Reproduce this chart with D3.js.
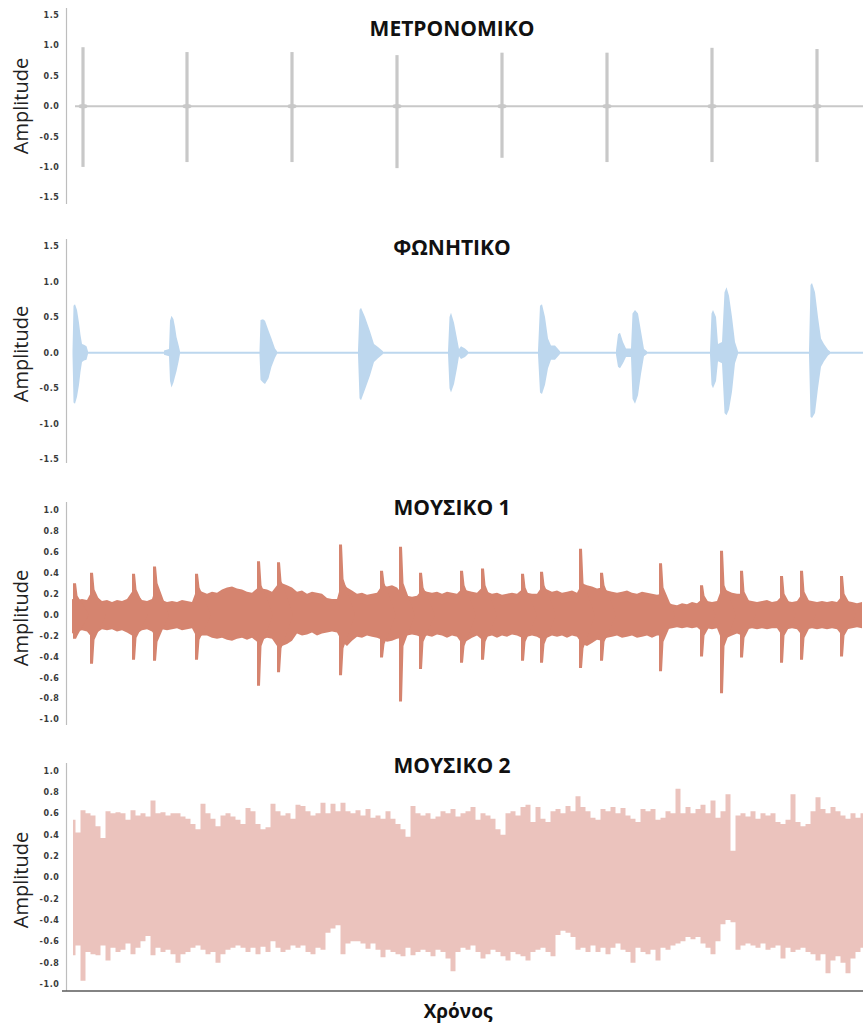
<!DOCTYPE html>
<html>
<head>
<meta charset="utf-8">
<script src="https://cdn.jsdelivr.net/npm/d3@7"></script>
<style>
  body { margin: 0; background: #fff; }
  svg { display: block; }
  .tick text { font-family: "DejaVu Sans", sans-serif; font-weight: bold; font-size: 8px; fill: #3a3a3a; letter-spacing: 0.6px; }
  .ylab { font-family: "Open Sans", sans-serif; font-size: 20px; fill: #222; }
  .ttl { font-family: "Open Sans", sans-serif; font-weight: bold; font-size: 21px; fill: #111; }
</style>
</head>
<body>
<svg id="chart" width="863" height="1030"></svg>
<script>
// ---- text ----
const panelTitles = ["ΜΕΤΡΟΝΟΜΙΚΟ", "ΦΩΝΗΤΙΚΟ", "ΜΟΥΣΙΚΟ 1", "ΜΟΥΣΙΚΟ 2"];
const yAxisLabel = "Amplitude";
const xAxisLabel = "Χρόνος";

// ---- tick values ----
const ticksWide = [1.5, 1.0, 0.5, 0.0, -0.5, -1.0, -1.5];
const ticksNarrow = [1.0, 0.8, 0.6, 0.4, 0.2, 0.0, -0.2, -0.4, -0.6, -0.8, -1.0];

// time span of the recordings (seconds)
const timeSpan = 15.92;

// ---- metronome: click time, positive peak, negative peak ----
const metronomeClicks = [
  [0.32, 0.97, -1.00],
  [2.40, 0.89, -0.92],
  [4.50, 0.89, -0.92],
  [6.60, 0.84, -1.02],
  [8.70, 0.88, -0.85],
  [10.80, 0.88, -0.92],
  [12.90, 0.96, -0.92],
  [15.00, 0.94, -0.92]
];

// ---- vocal: each syllable envelope as [time, upper, lower] ----
const vocalBursts = [
  [[0.11, 0.03, -0.03], [0.13, 0.66, -0.70], [0.16, 0.68, -0.72], [0.20, 0.60, -0.62], [0.24, 0.42, -0.45],
   [0.27, 0.25, -0.27], [0.30, 0.12, -0.13], [0.34, 0.11, -0.11], [0.39, 0.09, -0.10], [0.42, 0.02, -0.02]],
  [[1.94, 0.03, -0.03], [2.04, 0.05, -0.05], [2.06, 0.45, -0.40], [2.09, 0.52, -0.49], [2.13, 0.47, -0.42],
   [2.16, 0.36, -0.34], [2.19, 0.22, -0.26], [2.23, 0.11, -0.13], [2.26, 0.02, -0.02]],
  [[3.85, 0.03, -0.03], [3.87, 0.46, -0.38], [3.92, 0.47, -0.42], [3.96, 0.45, -0.44], [4.03, 0.31, -0.36],
   [4.09, 0.20, -0.20], [4.16, 0.06, -0.07], [4.20, 0.02, -0.02]],
  [[5.82, 0.03, -0.03], [5.85, 0.60, -0.64], [5.88, 0.63, -0.67], [5.96, 0.50, -0.52], [6.06, 0.30, -0.32],
   [6.14, 0.12, -0.13], [6.22, 0.08, -0.08], [6.32, 0.02, -0.02]],
  [[7.62, 0.02, -0.02], [7.65, 0.50, -0.50], [7.68, 0.56, -0.56], [7.74, 0.42, -0.44], [7.80, 0.20, -0.22],
   [7.84, 0.05, -0.05], [7.88, 0.09, -0.09], [7.96, 0.06, -0.06], [8.02, 0.02, -0.02]],
  [[9.42, 0.03, -0.03], [9.46, 0.66, -0.56], [9.50, 0.68, -0.58], [9.56, 0.50, -0.45], [9.62, 0.20, -0.22],
   [9.68, 0.10, -0.10], [9.76, 0.10, -0.10], [9.86, 0.02, -0.02]],
  [[10.98, 0.03, -0.03], [11.02, 0.26, -0.20], [11.06, 0.28, -0.22], [11.12, 0.15, -0.15], [11.18, 0.06, -0.06],
   [11.28, 0.06, -0.06], [11.31, 0.55, -0.65], [11.36, 0.60, -0.72], [11.42, 0.55, -0.60], [11.48, 0.30, -0.30],
   [11.54, 0.05, -0.05], [11.60, 0.02, -0.02]],
  [[12.86, 0.03, -0.03], [12.89, 0.55, -0.45], [12.92, 0.60, -0.50], [12.98, 0.50, -0.40], [13.02, 0.12, -0.12],
   [13.10, 0.15, -0.15], [13.15, 0.85, -0.85], [13.19, 0.92, -0.88], [13.24, 0.80, -0.80], [13.30, 0.50, -0.55],
   [13.36, 0.15, -0.15], [13.42, 0.02, -0.02]],
  [[14.84, 0.03, -0.03], [14.87, 0.95, -0.90], [14.90, 0.98, -0.92], [14.96, 0.85, -0.85], [15.02, 0.50, -0.50],
   [15.08, 0.20, -0.20], [15.14, 0.12, -0.12], [15.22, 0.04, -0.04], [15.26, 0.02, -0.02]]
];

// ---- music 1: background envelope every 0.1 s, starting at 0.10 s ----
const music1Start = 0.10;
const music1Step = 0.1;
const music1Upper = [
  0.15, 0.14, 0.15, 0.14, 0.23, 0.17, 0.13, 0.14, 0.12, 0.14,
  0.13, 0.15, 0.22, 0.20, 0.14, 0.13, 0.15, 0.30, 0.14, 0.12,
  0.13, 0.12, 0.14, 0.13, 0.12, 0.25, 0.22, 0.20, 0.22, 0.21,
  0.24, 0.26, 0.27, 0.25, 0.24, 0.22, 0.21, 0.25, 0.25, 0.24,
  0.22, 0.28, 0.30, 0.28, 0.26, 0.22, 0.23, 0.20, 0.22, 0.21,
  0.20, 0.16, 0.15, 0.15, 0.32, 0.26, 0.23, 0.20, 0.21, 0.19,
  0.20, 0.21, 0.28, 0.27, 0.28, 0.26, 0.20, 0.18, 0.17, 0.18,
  0.24, 0.22, 0.21, 0.22, 0.20, 0.22, 0.21, 0.20, 0.25, 0.23,
  0.22, 0.21, 0.26, 0.22, 0.20, 0.21, 0.19, 0.20, 0.21, 0.20,
  0.24, 0.21, 0.20, 0.20, 0.27, 0.24, 0.22, 0.23, 0.21, 0.22,
  0.23, 0.21, 0.30, 0.28, 0.27, 0.25, 0.26, 0.23, 0.22, 0.21,
  0.22, 0.23, 0.21, 0.20, 0.22, 0.21, 0.20, 0.19, 0.20, 0.12,
  0.10, 0.09, 0.11, 0.10, 0.12, 0.11, 0.15, 0.13, 0.12, 0.13,
  0.26, 0.23, 0.21, 0.20, 0.20, 0.14, 0.13, 0.12, 0.13, 0.14,
  0.12, 0.13, 0.18, 0.13, 0.12, 0.13, 0.20, 0.14, 0.13, 0.12,
  0.13, 0.12, 0.13, 0.12, 0.18, 0.13, 0.12, 0.11, 0.12
];
const music1Lower = [
  -0.18, -0.16, -0.15, -0.16, -0.22, -0.17, -0.14, -0.15, -0.14, -0.16,
  -0.15, -0.17, -0.20, -0.18, -0.15, -0.14, -0.16, -0.23, -0.14, -0.15,
  -0.14, -0.13, -0.15, -0.14, -0.13, -0.22, -0.20, -0.20, -0.22, -0.23,
  -0.22, -0.24, -0.25, -0.23, -0.22, -0.24, -0.22, -0.26, -0.24, -0.22,
  -0.23, -0.30, -0.30, -0.28, -0.25, -0.18, -0.20, -0.19, -0.17, -0.20,
  -0.18, -0.17, -0.16, -0.17, -0.26, -0.30, -0.25, -0.21, -0.22, -0.20,
  -0.21, -0.22, -0.24, -0.26, -0.25, -0.23, -0.22, -0.20, -0.19, -0.20,
  -0.22, -0.20, -0.21, -0.19, -0.20, -0.22, -0.20, -0.21, -0.28, -0.25,
  -0.22, -0.20, -0.24, -0.21, -0.20, -0.22, -0.20, -0.21, -0.19, -0.20,
  -0.22, -0.21, -0.20, -0.21, -0.24, -0.22, -0.20, -0.21, -0.20, -0.22,
  -0.20, -0.21, -0.28, -0.30, -0.27, -0.24, -0.25, -0.22, -0.21, -0.20,
  -0.22, -0.21, -0.20, -0.22, -0.21, -0.20, -0.22, -0.20, -0.20, -0.14,
  -0.13, -0.12, -0.13, -0.12, -0.13, -0.12, -0.16, -0.13, -0.14, -0.13,
  -0.25, -0.22, -0.20, -0.18, -0.20, -0.14, -0.13, -0.14, -0.13, -0.14,
  -0.13, -0.13, -0.20, -0.14, -0.13, -0.14, -0.20, -0.14, -0.13, -0.14,
  -0.13, -0.14, -0.13, -0.14, -0.20, -0.14, -0.13, -0.12, -0.13
];
// music 1 accents: time, upper peak, lower peak, upper decay, lower decay
const music1Hits = [
  [0.12, 0.30, -0.23, 0.18, -0.20], [0.46, 0.40, -0.47, 0.24, -0.24], [1.30, 0.39, -0.43, 0.24, -0.22],
  [1.72, 0.46, -0.44, 0.30, -0.26], [2.56, 0.39, -0.43, 0.26, -0.24], [3.80, 0.51, -0.68, 0.28, -0.30],
  [4.20, 0.50, -0.55, 0.32, -0.32], [5.44, 0.67, -0.58, 0.34, -0.32], [6.26, 0.42, -0.41, 0.30, -0.28],
  [6.64, 0.65, -0.83, 0.30, -0.30], [7.04, 0.40, -0.52, 0.26, -0.26], [7.86, 0.42, -0.46, 0.28, -0.30],
  [8.28, 0.44, -0.43, 0.28, -0.26], [9.08, 0.39, -0.44, 0.26, -0.26], [9.46, 0.41, -0.46, 0.28, -0.28],
  [10.24, 0.63, -0.51, 0.30, -0.32], [10.66, 0.40, -0.44, 0.28, -0.26], [11.84, 0.49, -0.54, 0.26, -0.26],
  [12.66, 0.28, -0.40, 0.18, -0.20], [13.06, 0.61, -0.75, 0.28, -0.30], [13.46, 0.42, -0.41, 0.22, -0.22],
  [14.26, 0.37, -0.46, 0.20, -0.20], [14.66, 0.42, -0.43, 0.22, -0.22], [15.46, 0.37, -0.40, 0.20, -0.20]
];

// ---- music 2: envelope every 0.1 s, starting at 0.12 s ----
const music2Start = 0.12;
const music2Step = 0.1;
const music2Upper = [
  0.54, 0.42, 0.63, 0.60, 0.58, 0.48, 0.37, 0.62, 0.60, 0.61,
  0.60, 0.54, 0.63, 0.58, 0.60, 0.57, 0.72, 0.60, 0.61, 0.58,
  0.60, 0.60, 0.57, 0.55, 0.50, 0.45, 0.69, 0.60, 0.55, 0.48,
  0.58, 0.60, 0.57, 0.54, 0.50, 0.65, 0.62, 0.50, 0.45, 0.47,
  0.69, 0.62, 0.58, 0.60, 0.55, 0.68, 0.67, 0.62, 0.58, 0.60,
  0.70, 0.60, 0.69, 0.62, 0.70, 0.62, 0.60, 0.63, 0.58, 0.64,
  0.56, 0.58, 0.55, 0.62, 0.55, 0.50, 0.45, 0.38, 0.67, 0.60,
  0.58, 0.60, 0.55, 0.57, 0.62, 0.60, 0.64, 0.57, 0.60, 0.62,
  0.66, 0.54, 0.60, 0.58, 0.55, 0.45, 0.40, 0.60, 0.62, 0.58,
  0.66, 0.68, 0.52, 0.66, 0.55, 0.52, 0.62, 0.64, 0.60, 0.67,
  0.62, 0.76, 0.66, 0.62, 0.56, 0.54, 0.64, 0.62, 0.66, 0.60,
  0.65, 0.58, 0.55, 0.52, 0.64, 0.62, 0.64, 0.54, 0.56, 0.62,
  0.60, 0.83, 0.60, 0.66, 0.60, 0.64, 0.68, 0.60, 0.72, 0.56,
  0.62, 0.78, 0.25, 0.58, 0.60, 0.57, 0.62, 0.55, 0.60, 0.58,
  0.60, 0.52, 0.50, 0.54, 0.78, 0.52, 0.48, 0.50, 0.62, 0.75,
  0.64, 0.60, 0.66, 0.62, 0.58, 0.55, 0.60, 0.56, 0.60
];
const music2Lower = [
  -0.73, -0.64, -0.97, -0.70, -0.72, -0.73, -0.64, -0.78, -0.66, -0.70,
  -0.68, -0.62, -0.72, -0.66, -0.60, -0.55, -0.73, -0.66, -0.70, -0.68,
  -0.72, -0.80, -0.72, -0.70, -0.66, -0.64, -0.68, -0.72, -0.70, -0.80,
  -0.72, -0.68, -0.66, -0.64, -0.66, -0.70, -0.66, -0.72, -0.65, -0.70,
  -0.60, -0.66, -0.70, -0.68, -0.64, -0.66, -0.64, -0.70, -0.72, -0.66,
  -0.68, -0.52, -0.48, -0.45, -0.72, -0.62, -0.60, -0.60, -0.62, -0.67,
  -0.62, -0.68, -0.75, -0.68, -0.70, -0.72, -0.74, -0.66, -0.73, -0.70,
  -0.68, -0.70, -0.74, -0.68, -0.70, -0.76, -0.88, -0.70, -0.66, -0.68,
  -0.64, -0.70, -0.76, -0.72, -0.68, -0.70, -0.74, -0.78, -0.70, -0.72,
  -0.74, -0.78, -0.70, -0.68, -0.66, -0.70, -0.74, -0.54, -0.50, -0.52,
  -0.56, -0.68, -0.66, -0.70, -0.64, -0.70, -0.66, -0.72, -0.66, -0.62,
  -0.68, -0.70, -0.80, -0.66, -0.70, -0.72, -0.68, -0.78, -0.66, -0.68,
  -0.64, -0.62, -0.60, -0.56, -0.58, -0.56, -0.62, -0.66, -0.72, -0.60,
  -0.44, -0.40, -0.42, -0.68, -0.64, -0.62, -0.64, -0.66, -0.62, -0.68,
  -0.66, -0.64, -0.76, -0.66, -0.70, -0.68, -0.66, -0.70, -0.72, -0.78,
  -0.72, -0.90, -0.78, -0.74, -0.80, -0.90, -0.76, -0.70, -0.66
];

// ---- colours ----
const colors = ["#c8c8c8", "#bdd7ee", "#d5846f", "#ebc3bd"];

// ---- layout ----
const W = 863, H = 1030;
const axisX = 66.5;
const panels = [
  { yTop: 15.0,  yBottom: 197.3, lim: 1.5, ticks: ticksWide,   axis: [8, 204],   titleY: 36,  labelY: 106 },
  { yTop: 246.0, yBottom: 459.3, lim: 1.5, ticks: ticksWide,   axis: [239, 463], titleY: 255, labelY: 354 },
  { yTop: 510.0, yBottom: 719.3, lim: 1.0, ticks: ticksNarrow, axis: [502, 725], titleY: 515, labelY: 618 },
  { yTop: 770.7, yBottom: 984.0, lim: 1.0, ticks: ticksNarrow, axis: [763, 991], titleY: 773, labelY: 880 }
];

const svg = d3.select("#chart");
const x = d3.scaleLinear().domain([0, timeSpan]).range([67, 863]);

const yScales = panels.map(p => d3.scaleLinear().domain([-p.lim, p.lim]).range([p.yBottom, p.yTop]));

function envelope(y, curve) {
  return d3.area()
    .x(d => x(d[0]))
    .y0(d => y(d[2]))
    .y1(d => y(d[1]))
    .curve(curve || d3.curveLinear);
}

function gridSeries(start, step, upper, lower) {
  return upper.map((u, i) => [start + i * step, u, lower[i]]);
}

// axes, titles and labels
panels.forEach((p, i) => {
  const y = yScales[i];
  const g = svg.append("g").attr("transform", `translate(${axisX},0)`);
  g.call(d3.axisLeft(y).tickValues(p.ticks).tickSize(0).tickPadding(7).tickFormat(d => d.toFixed(1)));
  g.select(".domain").remove();
  g.append("line")
    .attr("x1", 0).attr("x2", 0)
    .attr("y1", p.axis[0]).attr("y2", p.axis[1])
    .attr("stroke", "#bdbdbd").attr("stroke-width", 1.2);

  svg.append("text").attr("class", "ttl")
    .attr("x", 452).attr("y", p.titleY)
    .attr("text-anchor", "middle")
    .text(panelTitles[i]);

  svg.append("text").attr("class", "ylab")
    .attr("transform", `translate(28,${p.labelY}) rotate(-90)`)
    .attr("text-anchor", "middle")
    .text(yAxisLabel);
});

// ---- panel 1: metronome ----
{
  const y = yScales[0];
  svg.append("line")
    .attr("x1", x(0.16)).attr("x2", x(timeSpan))
    .attr("y1", y(0)).attr("y2", y(0))
    .attr("stroke", colors[0]).attr("stroke-width", 2);
  const clicks = svg.append("g").attr("fill", colors[0]).attr("stroke", colors[0]);
  clicks.selectAll("line").data(metronomeClicks).join("line")
    .attr("x1", d => x(d[0])).attr("x2", d => x(d[0]))
    .attr("y1", d => y(d[1])).attr("y2", d => y(d[2]))
    .attr("stroke-width", 3.2);
  clicks.selectAll("ellipse").data(metronomeClicks).join("ellipse")
    .attr("cx", d => x(d[0])).attr("cy", y(0))
    .attr("rx", 4.5).attr("ry", 2.2)
    .attr("stroke", "none");
}

// ---- panel 2: vocal ----
{
  const y = yScales[1];
  svg.append("line")
    .attr("x1", x(0.12)).attr("x2", x(timeSpan))
    .attr("y1", y(0)).attr("y2", y(0))
    .attr("stroke", colors[1]).attr("stroke-width", 2);
  svg.append("g").selectAll("path").data(vocalBursts).join("path")
    .attr("d", envelope(y))
    .attr("fill", colors[1]);
}

// ---- panel 3: music 1 ----
{
  const y = yScales[2];
  const base = gridSeries(music1Start, music1Step, music1Upper, music1Lower);
  svg.append("path").datum(base)
    .attr("d", envelope(y))
    .attr("fill", colors[2]);
  svg.append("g").selectAll("path").data(music1Hits).join("path")
    .attr("d", h => envelope(y)([
      [h[0], h[1], h[2]],
      [h[0] + 0.06, h[1], h[2]],
      [h[0] + 0.09, h[3], h[4]],
      [h[0] + 0.32, 0, 0]
    ]))
    .attr("fill", colors[2]);
}

// ---- panel 4: music 2 ----
{
  const y = yScales[3];
  const series = gridSeries(music2Start, music2Step, music2Upper, music2Lower);
  svg.append("path").datum(series)
    .attr("d", envelope(y, d3.curveStep))
    .attr("fill", colors[3]);
}

// ---- time axis ----
svg.append("line")
  .attr("x1", 62).attr("x2", W)
  .attr("y1", 991).attr("y2", 991)
  .attr("stroke", "#5a5a5a").attr("stroke-width", 1.6);
svg.append("text").attr("class", "ttl")
  .attr("x", 458).attr("y", 1018)
  .attr("text-anchor", "middle")
  .style("font-size", "19px")
  .text(xAxisLabel);
</script>
</body>
</html>
